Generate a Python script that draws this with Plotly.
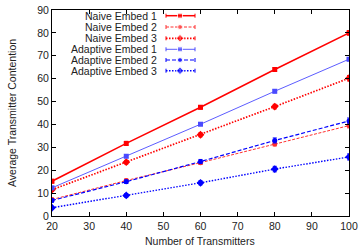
import plotly.graph_objects as go

x_vals = [20, 40, 60, 80, 100]
naive1 = [15.2, 31.7, 47.5, 64.0, 80.0]
naive2 = [7.2, 15.5, 23.3, 31.5, 39.5]
naive3 = [11.5, 23.5, 35.5, 47.8, 60.2]
adapt1 = [12.3, 26.1, 40.1, 54.5, 68.5]
adapt2 = [6.8, 15.0, 23.8, 33.0, 41.5]
adapt3 = [3.6, 9.0, 14.5, 20.5, 25.8]
err1 = [0.8, 0.9, 0.8, 0.8, 1.0]
err2 = [0.6, 0.7, 0.8, 0.9, 1.0]
err3 = [0.7, 0.8, 0.9, 1.0, 1.2]
errA1 = [0.6, 0.6, 0.6, 0.7, 0.7]
errA2 = [0.7, 0.8, 0.9, 1.1, 1.3]
errA3 = [0.5, 0.8, 0.9, 1.2, 1.3]

names = ["Naive Embed 1", "Naive Embed 2", "Naive Embed 3",
         "Adaptive Embed 1", "Adaptive Embed 2", "Adaptive Embed 3"]
series = [naive1, naive2, naive3, adapt1, adapt2, adapt3]
errors = [err1, err2, err3, errA1, errA2, errA3]

styles = [
    dict(color="#ff0000", width=1.5, dash="solid", symbol="square", size=5),
    dict(color="#ff3030", width=1.0, dash="3px,1.5px", symbol="circle", size=5),
    dict(color="#ff0000", width=1.7, dash="1.5px,1.5px", symbol="diamond", size=6),
    dict(color="#4a4aff", width=0.9, dash="solid", symbol="square", size=5),
    dict(color="#0000ff", width=1.2, dash="4px,2px", symbol="circle", size=5),
    dict(color="#0000ff", width=1.4, dash="1.5px,1.5px", symbol="diamond", size=6),
]

fig = go.Figure()
for name, ys, es, st in zip(names, series, errors, styles):
    fig.add_trace(go.Scatter(
        x=x_vals, y=ys, name=name, mode="lines+markers",
        line=dict(color=st["color"], width=st["width"], dash=st["dash"]),
        marker=dict(symbol=st["symbol"], size=st["size"], color=st["color"]),
        error_y=dict(type="data", array=es, color=st["color"], thickness=1, width=2),
        showlegend=False,
    ))

# manual gnuplot-style legend (text left, sample right) in pixel-like overlay axes
row_y = [15.7, 27.0, 38.3, 49.3, 60.0, 70.7]
for name, st, ry in zip(names, styles, row_y):
    fig.add_trace(go.Scatter(
        x=[166, 180, 195], y=[ry, ry, ry], xaxis="x2", yaxis="y2",
        mode="lines+markers",
        line=dict(color=st["color"], width=st["width"], dash=st["dash"]),
        marker=dict(symbol=st["symbol"], size=[0, st["size"], 0], color=st["color"]),
        error_y=dict(type="data", array=[2, 0, 2], color=st["color"], thickness=1, width=0),
        showlegend=False, hoverinfo="skip",
    ))
    fig.add_annotation(x=158.5, y=ry, xref="x2", yref="y2", text=name,
                       showarrow=False, xanchor="right", yanchor="middle",
                       font=dict(size=10.5, color="#222"))

fig.add_annotation(x=0.498, y=-0.121, xref="paper", yref="paper", text="Number of Transmitters",
                   showarrow=False, xanchor="center", yanchor="middle",
                   font=dict(size=10.5, color="#222"))
fig.add_annotation(x=-0.1347, y=0.5, xref="paper", yref="paper", text="Average Transmitter Contention",
                   showarrow=False, xanchor="center", yanchor="middle", textangle=-90,
                   font=dict(size=10.5, color="#222"))

axis_common = dict(showline=True, linecolor="black", linewidth=1, mirror="ticks",
                   ticks="inside", ticklen=4, tickcolor="black", showgrid=False,
                   zeroline=False, tickfont=dict(size=10.5, color="#222"), automargin=False)

fig.update_layout(
    width=360, height=247,
    margin=dict(l=52, r=11, t=10, b=31),
    paper_bgcolor="white", plot_bgcolor="white",
    font=dict(family="Liberation Sans, Arial, sans-serif", size=10.5, color="black"),
    xaxis=dict(range=[20, 100], dtick=10, tick0=20, **axis_common),
    yaxis=dict(range=[0, 90], dtick=10, **axis_common),
    xaxis2=dict(range=[52, 349], overlaying="x", visible=False, fixedrange=True),
    yaxis2=dict(range=[216, 10], overlaying="y", visible=False, fixedrange=True),
)

fig.write_html("out.html", config={"displayModeBar": False},
               post_script="document.body.style.margin='0';document.body.style.overflow='hidden';")
